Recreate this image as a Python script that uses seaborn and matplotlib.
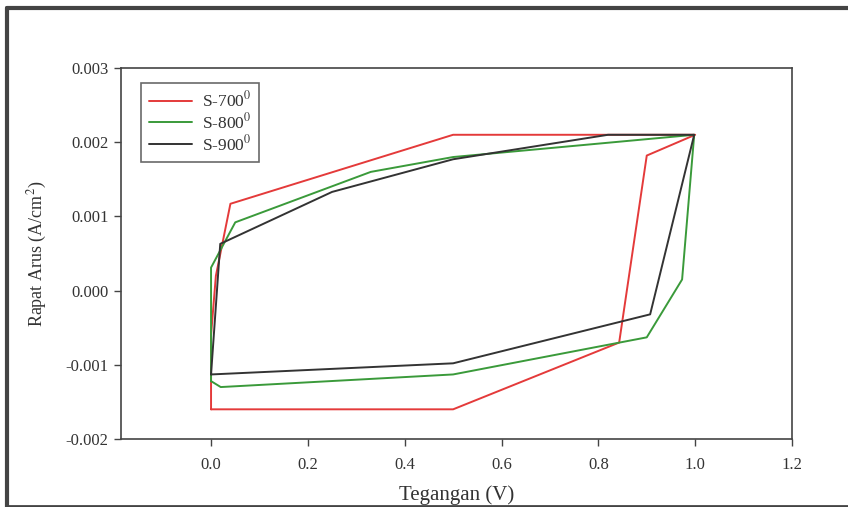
import pandas as pd
import seaborn as sns
import matplotlib.pyplot as plt
from matplotlib.lines import Line2D

# voltage (V) and current density (A/cm^2), in drawing order
v_700 = [0.0, 0.0, 0.01, 0.04, 0.5, 1.0, 0.9, 0.843, 0.5, 0.0]
j_700 = [-0.0016, -0.0006, 0.0002, 0.00117, 0.0021, 0.0021, 0.00182, -0.0007, -0.0016, -0.0016]

v_800 = [0.0, 0.02, 0.5, 0.9, 0.973, 0.998, 0.5, 0.33, 0.05, 0.0, 0.0]
j_800 = [-0.00122, -0.0013, -0.00113, -0.00063, 0.00015, 0.0021, 0.0018, 0.0016, 0.00092, 0.00031, -0.00122]

v_900 = [0.0, 0.5, 0.907, 0.998, 0.82, 0.5, 0.25, 0.019, 0.0]
j_900 = [-0.00113, -0.00098, -0.00032, 0.0021, 0.0021, 0.00177, 0.00133, 0.00063, -0.00113]

labels = ["S-700$^0$", "S-800$^0$", "S-900$^0$"]
colors = ["#e43a3a", "#3a9a3a", "#333333"]

frames = []
for lab, v, j in zip(labels, [v_700, v_800, v_900], [j_700, j_800, j_900]):
    frames.append(pd.DataFrame({"V": v, "J": j, "sample": lab}))
df = pd.concat(frames, ignore_index=True)

sns.set_style("ticks")
plt.rcParams["font.family"] = ["Liberation Serif", "DejaVu Serif"]
plt.rcParams["mathtext.fontset"] = "stix"

fig = plt.figure(figsize=(8.48, 5.07), dpi=100)
ax = fig.add_axes([121 / 848, 68 / 507, (792 - 121) / 848, (439 - 68) / 507])

sns.lineplot(data=df, x="V", y="J", hue="sample", palette=colors, sort=False,
             estimator=None, linewidth=1.4, ax=ax, legend=False)

ax.set_xlim(-0.186, 1.2)
ax.set_ylim(-0.002, 0.003)
ax.set_xticks([0.0, 0.2, 0.4, 0.6, 0.8, 1.0, 1.2])
ax.set_xticklabels(["0.0", "0.2", "0.4", "0.6", "0.8", "1.0", "1.2"])
ax.set_yticks([-0.002, -0.001, 0.0, 0.001, 0.002, 0.003])
ax.set_yticklabels(["-0.002", "-0.001", "0.000", "0.001", "0.002", "0.003"])
for s in ax.spines.values():
    s.set_color("#444444")
    s.set_linewidth(1.2)
ax.tick_params(direction="out", length=5, width=1, colors="#444444",
               labelcolor="#333333", labelsize=12)
ax.tick_params(axis="x", pad=8)
ax.tick_params(axis="y", pad=4)
ax.set_xlabel("Tegangan (V)", fontsize=15, color="#333333", labelpad=9)
ax.set_ylabel("Rapat Arus (A/cm$^2$)", fontsize=13, color="#333333", labelpad=12)

handles = [Line2D([0], [0], color=c, lw=1.4) for c in colors]
leg = ax.legend(handles, labels, loc="upper left", bbox_to_anchor=(20 / 671, 1 - 15 / 371),
                borderaxespad=0, fontsize=12.5, frameon=True, fancybox=False,
                handlelength=2.5, borderpad=0.45, labelspacing=0.1, handletextpad=0.55)
leg.get_frame().set_edgecolor("#444444")
leg.get_frame().set_linewidth(1.2)
for t in leg.get_texts():
    t.set_color("#333333")

# dark frame around the picture (top, left, bottom)
fig.add_artist(Line2D([7 / 848, 1.0], [1 - 8 / 507, 1 - 8 / 507], color="#444444", lw=3,
                      transform=fig.transFigure))
fig.add_artist(Line2D([7 / 848, 7 / 848], [0, 1 - 8 / 507], color="#444444", lw=3,
                      transform=fig.transFigure))
fig.add_artist(Line2D([7 / 848, 1.0], [1 / 507, 1 / 507], color="#444444", lw=2,
                      transform=fig.transFigure))

fig.savefig("out.png", dpi=100)
